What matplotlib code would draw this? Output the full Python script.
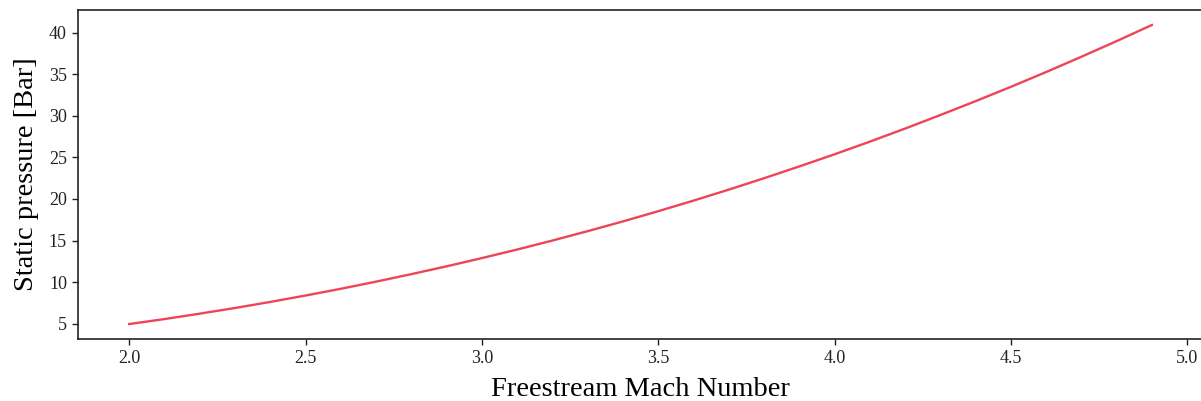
import matplotlib
matplotlib.use("Agg")
import matplotlib.pyplot as plt

# Freestream Mach number and corresponding static pressure (bar)
mach = [2.0, 2.1, 2.2, 2.3, 2.4, 2.5, 2.6, 2.7, 2.8, 2.9,
        3.0, 3.1, 3.2, 3.3, 3.4, 3.5, 3.6, 3.7, 3.8, 3.9,
        4.0, 4.1, 4.2, 4.3, 4.4, 4.5, 4.6, 4.7, 4.8, 4.9]
pressure = [4.96, 5.56, 6.21, 6.89, 7.62, 8.39, 9.20, 10.06, 10.96, 11.90,
            12.89, 13.92, 15.00, 16.13, 17.30, 18.53, 19.80, 21.12, 22.49, 23.91,
            25.37, 26.89, 28.46, 30.09, 31.76, 33.48, 35.26, 37.10, 38.98, 40.92]

plt.rcParams['font.family'] = ['Liberation Serif', 'DejaVu Serif']

fig = plt.figure(figsize=(12.01, 4.01), dpi=100)
ax = fig.add_axes([0.065, 0.1546, 0.9367, 0.8204])

ax.plot(mach, pressure, color='#ee4457', linewidth=1.7)

ax.set_xlabel('Freestream Mach Number', fontsize=20.5, labelpad=7)
ax.set_ylabel('Static pressure [Bar]', fontsize=20.5, labelpad=7)
ax.set_xticks([2.0, 2.5, 3.0, 3.5, 4.0, 4.5, 5.0])
ax.set_yticks([5, 10, 15, 20, 25, 30, 35, 40])
ax.tick_params(labelsize=13, length=4.5, width=1.0, colors='#222222')
for s in ax.spines.values():
    s.set_linewidth(1.2)
    s.set_color('#222222')

fig.savefig('out.png', dpi=100)
